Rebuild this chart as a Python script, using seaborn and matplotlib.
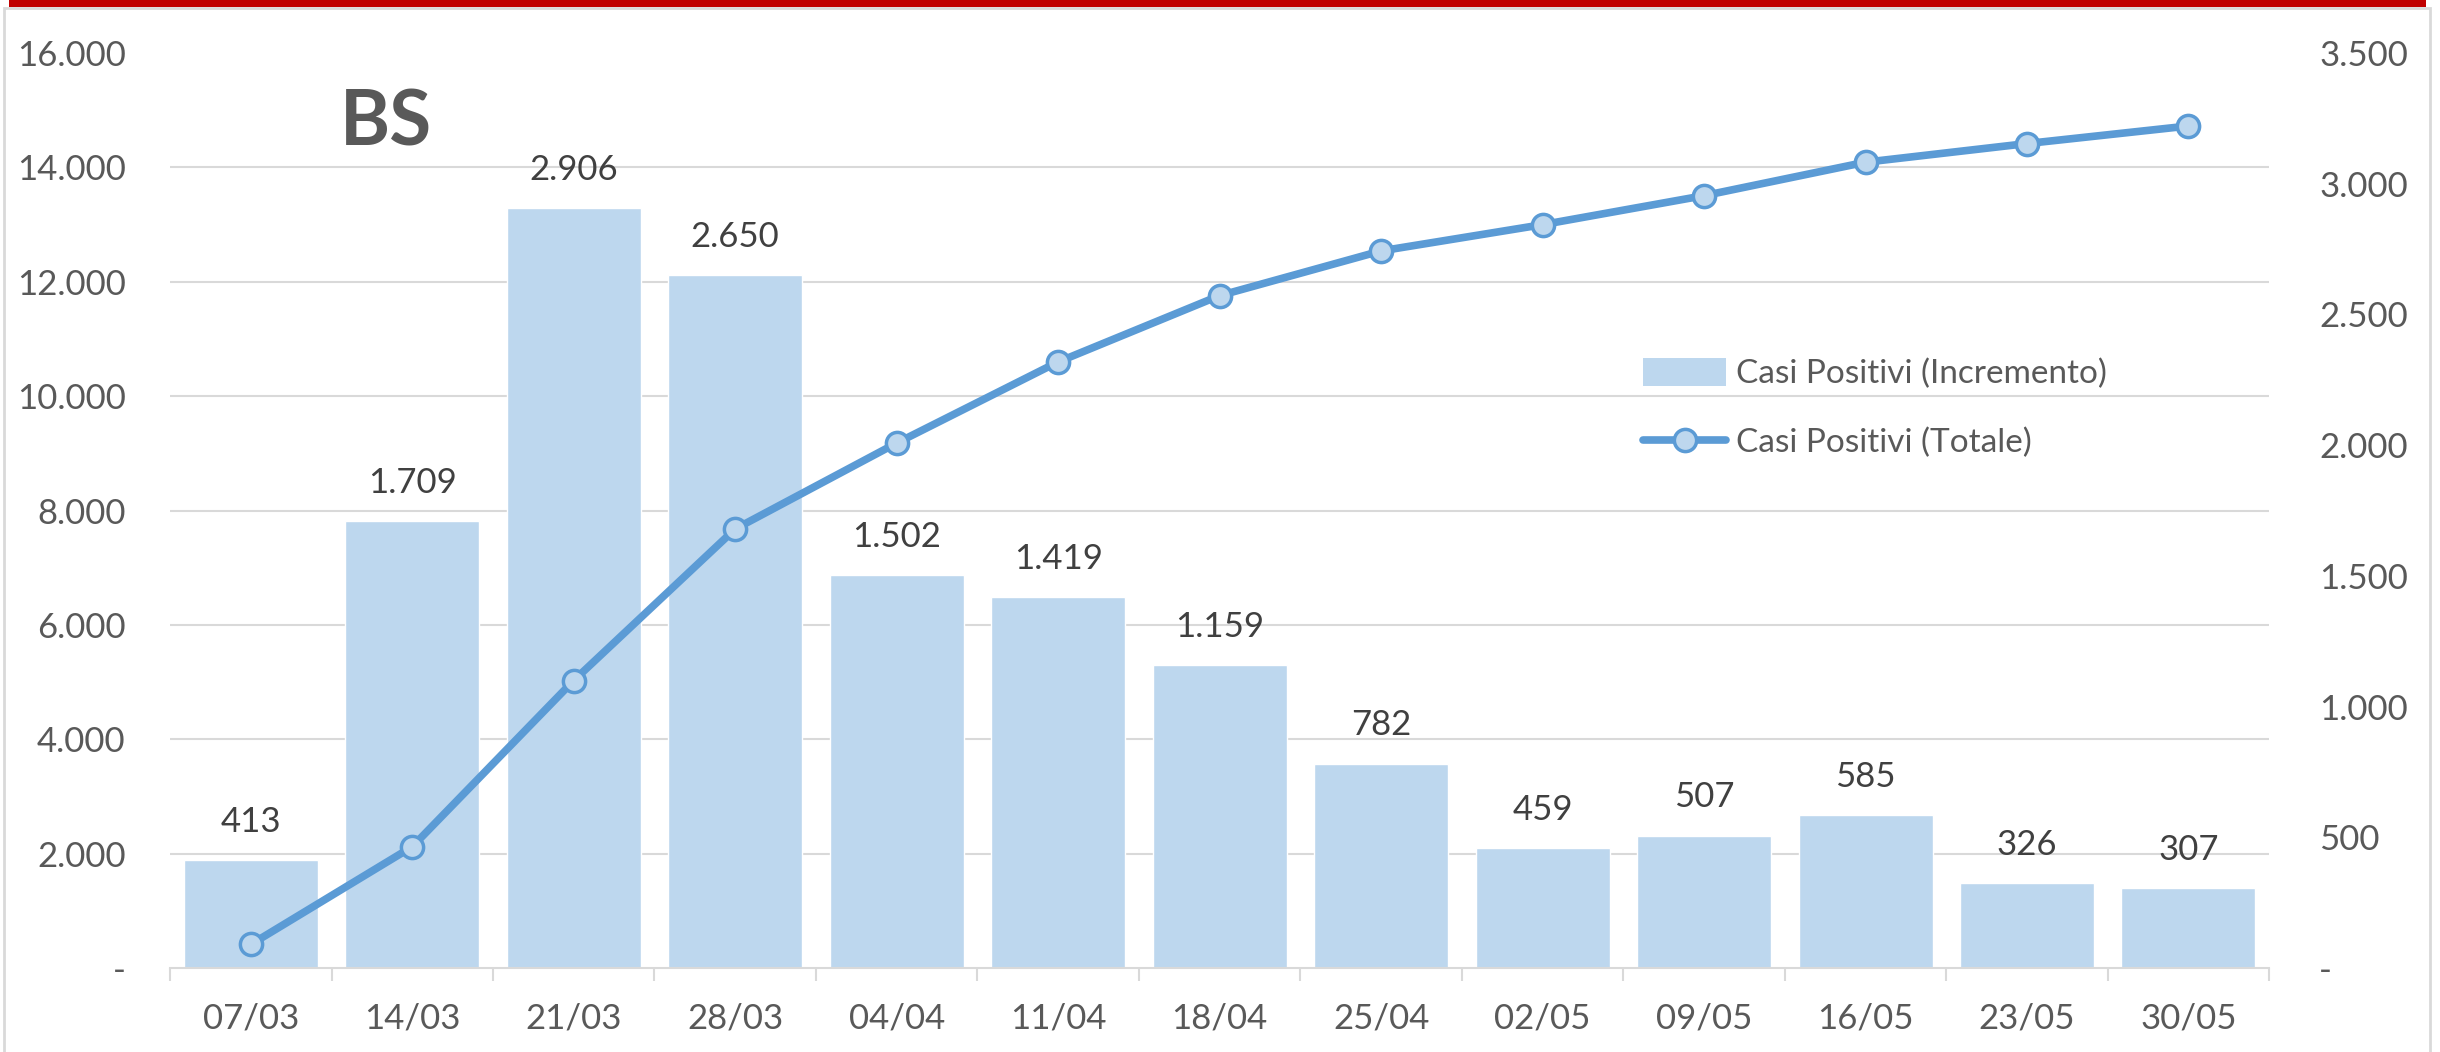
import numpy as np
import pandas as pd
import matplotlib
matplotlib.use("Agg")
import matplotlib.pyplot as plt
from matplotlib.patches import Patch, Rectangle
from matplotlib.lines import Line2D
import seaborn as sns

# data
dates = ["07/03", "14/03", "21/03", "28/03", "04/04", "11/04", "18/04",
         "25/04", "02/05", "09/05", "16/05", "23/05", "30/05"]
incremento = [413, 1709, 2906, 2650, 1502, 1419, 1159, 782, 459, 507, 585, 326, 307]
totale = [413, 2122, 5028, 7678, 9180, 10599, 11758, 12540, 12999, 13506, 14091, 14417, 14724]
left_ticks = list(range(0, 16001, 2000))
right_ticks = list(range(0, 3501, 500))

BAR = "#bdd7ee"
LINE = "#5b9bd5"
GRID = "#d9d9d9"
TXT = "#595959"


def fmt(v):
    return "-" if v == 0 else f"{v:,}".replace(",", ".")


sns.set_theme(style="white")
plt.rcParams["font.family"] = ["Lato", "DejaVu Sans"]

df = pd.DataFrame({"data": dates, "inc": incremento, "tot": totale, "pos": np.arange(len(dates))})

fig = plt.figure(figsize=(24.4, 10.52), dpi=100)
ax = fig.add_axes([0.0697, 0.0798, 0.8603, 0.8698])

# bars on the right-hand scale
sns.barplot(data=df, x="data", y="inc", color=BAR, saturation=1, width=0.83, ax=ax, zorder=2)
ax.set_xlim(-0.5, len(dates) - 0.5)
ax.set_ylim(0, 3500)
ax.set_xlabel("")
ax.set_ylabel("")

ax.bar_label(ax.containers[0], labels=[fmt(v) for v in incremento],
             padding=16, fontsize=25, color="#404040")

# cumulative line on the left-hand scale
ax2 = ax.twinx()
sns.lineplot(data=df, x="pos", y="tot", color=LINE, lw=5.5, marker="o", markersize=16,
             markerfacecolor=BAR, markeredgecolor=LINE, markeredgewidth=2.5,
             sort=False, ax=ax2)
ax2.set_xlim(ax.get_xlim())
ax2.set_ylim(0, 16000)
ax2.set_xlabel("")
ax2.set_ylabel("")
ax2.grid(False)
for s in ax2.spines.values():
    s.set_visible(False)

# axis sides are set after twinx, which flips them
ax.yaxis.tick_right()
ax.set_yticks(right_ticks)
ax.set_yticklabels([fmt(v) for v in right_ticks])
ax.tick_params(axis="y", which="major", length=0, pad=36, labelsize=25, labelcolor=TXT)
ax2.yaxis.tick_left()
ax2.set_yticks(left_ticks)
ax2.set_yticklabels([fmt(v) for v in left_ticks])
ax2.tick_params(axis="y", length=0, pad=32, labelsize=25, labelcolor=TXT)

# gridlines follow the left-hand scale, drawn under the bars
ax.set_yticks([v * 3500 / 16000 for v in left_ticks], minor=True)
ax.tick_params(axis="y", which="minor", length=0)
ax.grid(which="minor", axis="y", color=GRID, lw=1.5)
ax.grid(which="major", visible=False)
ax.set_axisbelow(True)

ax.set_xticks(np.arange(len(dates)))
ax.set_xticklabels(dates)
ax.set_xticks(np.arange(-0.5, len(dates), 1), minor=True)
ax.tick_params(axis="x", which="major", length=0, pad=25, labelsize=25, labelcolor=TXT)
ax.tick_params(axis="x", which="minor", length=9.5, width=1.5, color=GRID, bottom=True)
for s in ["top", "left", "right"]:
    ax.spines[s].set_visible(False)
ax.spines["bottom"].set_color(GRID)
ax.spines["bottom"].set_linewidth(1.5)

ax2.text(386 / 2440, 1 - 124 / 1052, "BS", transform=fig.transFigure, fontsize=55,
         fontweight="bold", color=TXT, ha="center", va="center")

handles = [Patch(facecolor=BAR, edgecolor="none"),
           Line2D([], [], color=LINE, lw=5.5, marker="o", markersize=16,
                  markerfacecolor=BAR, markeredgecolor=LINE, markeredgewidth=2.5)]
fig.legend(handles, ["Casi Positivi (Incremento)", "Casi Positivi (Totale)"],
           loc="upper left", bbox_to_anchor=(1643 / 2440, 1 - 358 / 1052),
           frameon=False, fontsize=24, labelcolor=TXT, handlelength=2.5,
           handleheight=0.9, handletextpad=0.3, labelspacing=1.13,
           borderpad=0, borderaxespad=0)

# frame and red strip at the top
fig.add_artist(Rectangle((4 / 2440, -0.01), 2426 / 2440, 1.01 - 8 / 1052,
                         transform=fig.transFigure, fill=False, ec=GRID, lw=2))
fig.add_artist(Rectangle((9 / 2440, 1 - 7 / 1052), 2417 / 2440, 7 / 1052,
                         transform=fig.transFigure, fc="#c00000", ec="none"))

fig.savefig("out.png", dpi=100)
